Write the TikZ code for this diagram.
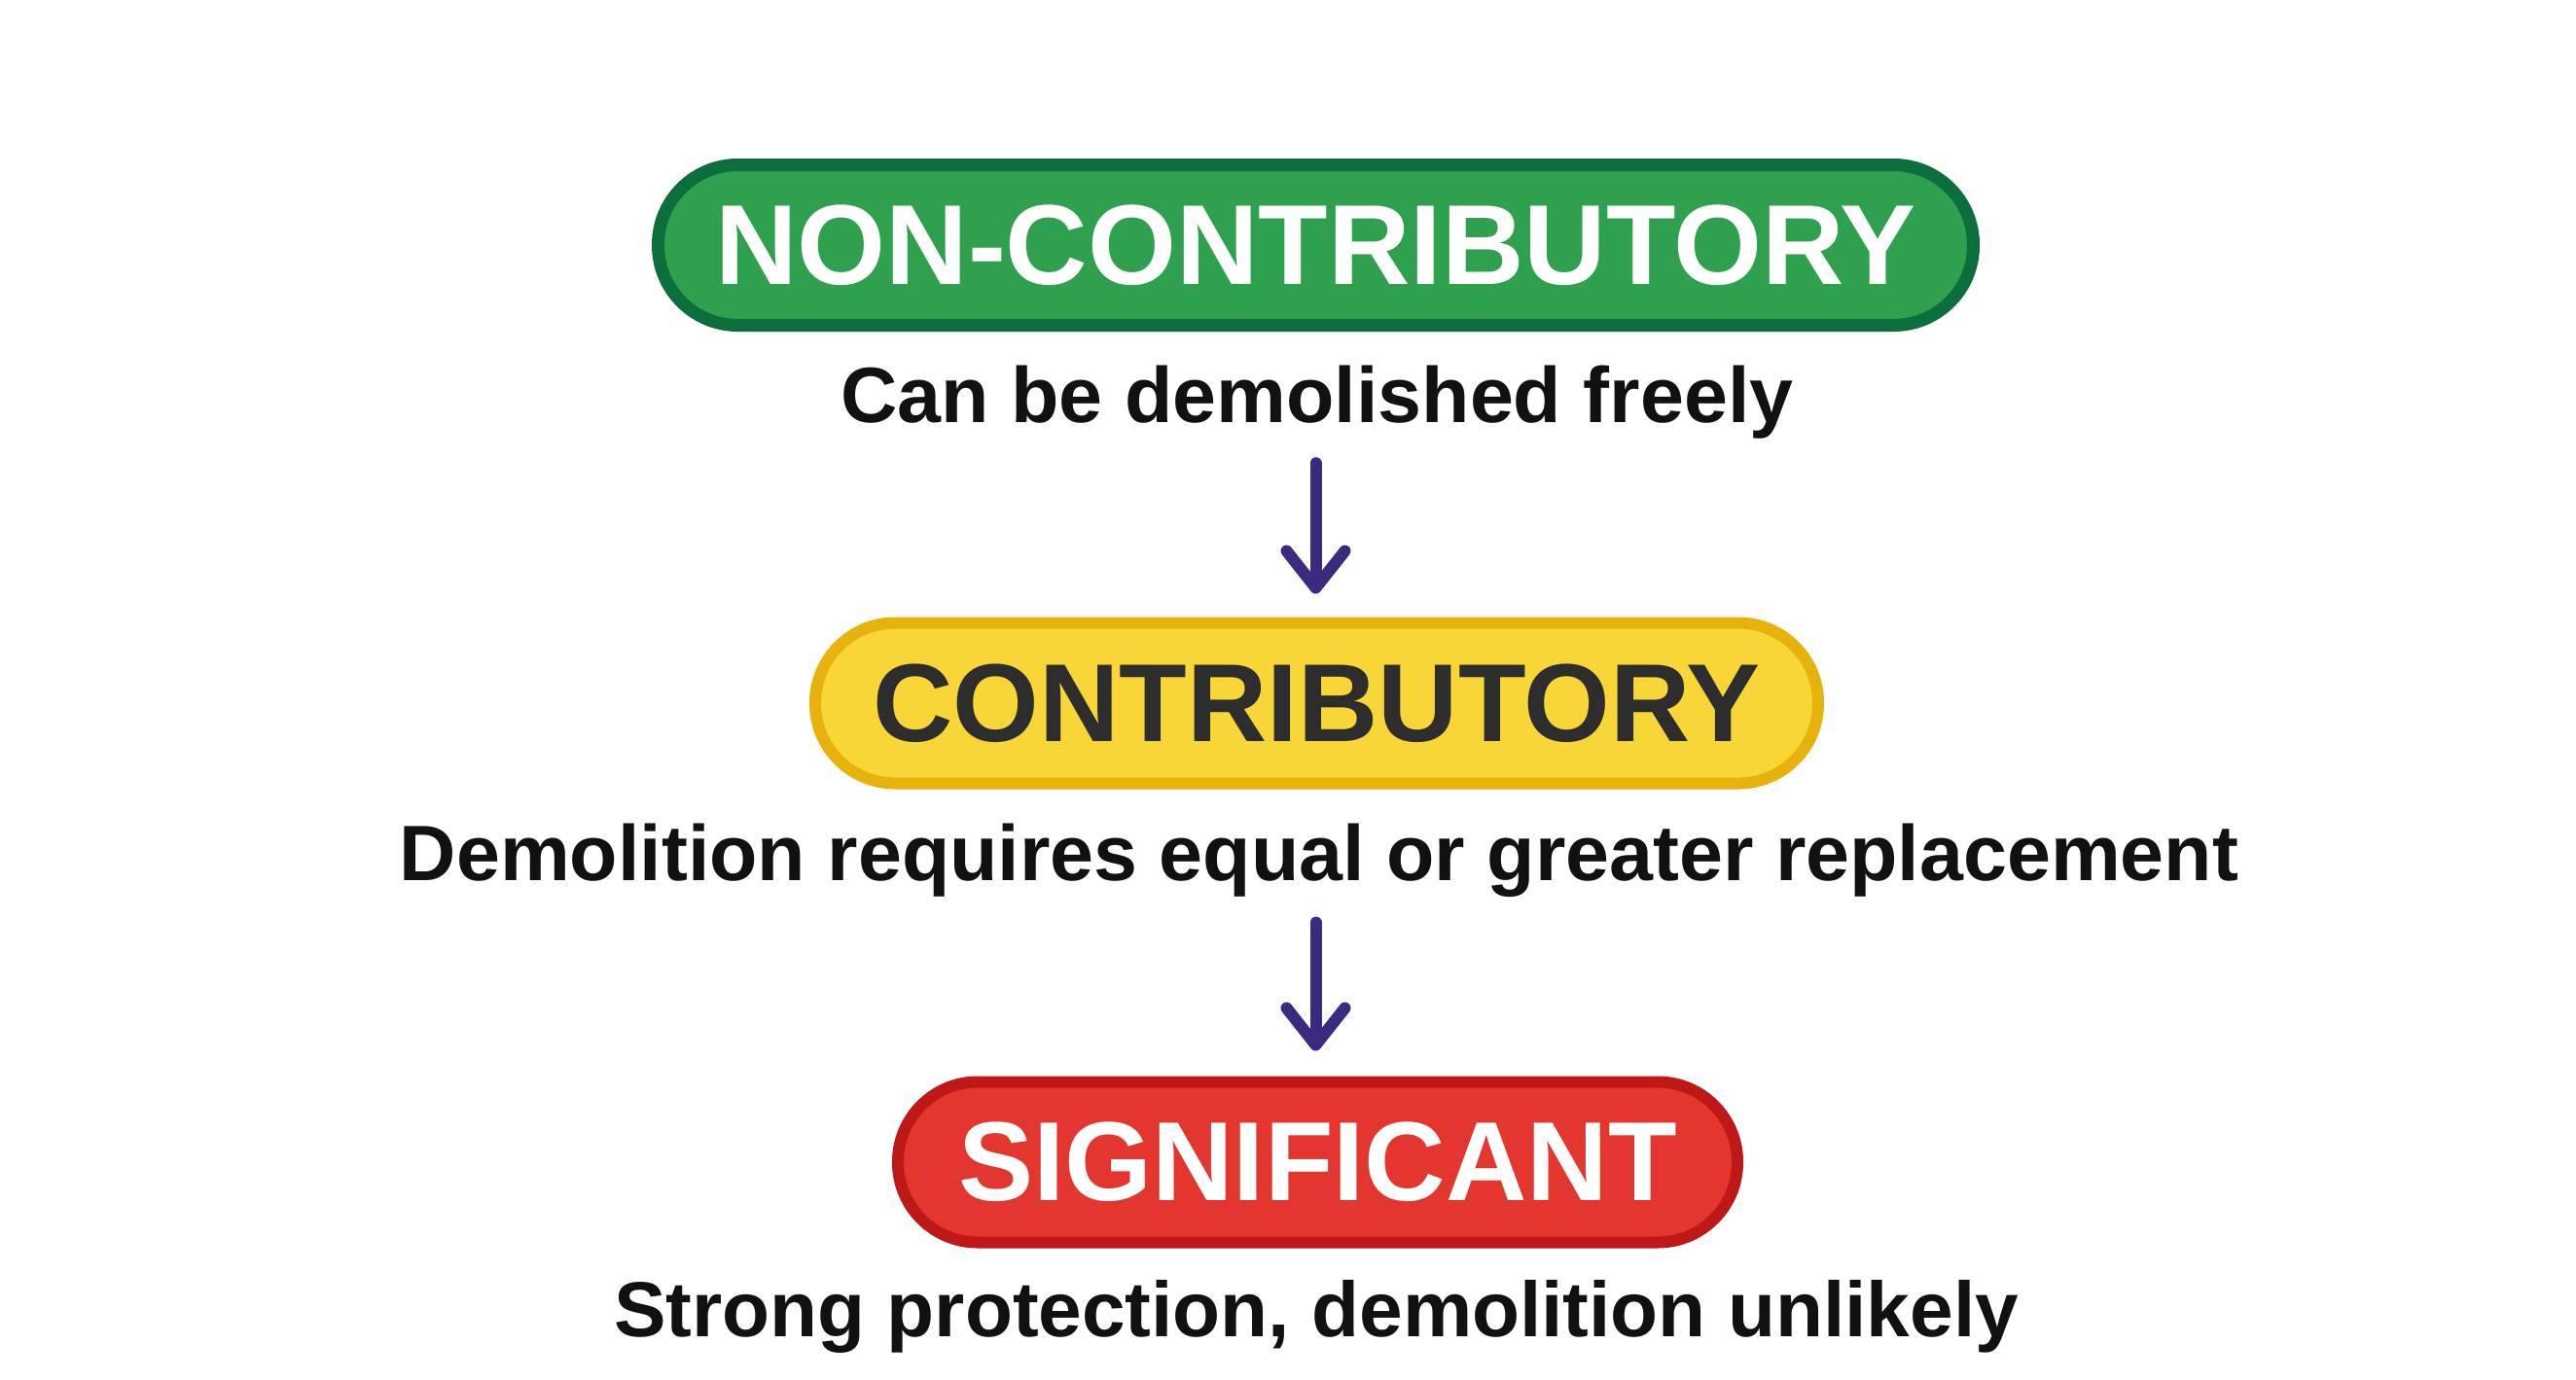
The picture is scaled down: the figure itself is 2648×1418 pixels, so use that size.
\documentclass[tikz,border=0pt]{standalone}
\usepackage{fontspec}
\setmainfont{Liberation Sans}
\usetikzlibrary{arrows.meta}
\definecolor{gfill}{HTML}{2EA04E}
\definecolor{gline}{HTML}{0B6E3C}
\definecolor{yfill}{HTML}{F8D637}
\definecolor{yline}{HTML}{E8B20C}
\definecolor{rfill}{HTML}{E2362E}
\definecolor{rline}{HTML}{BE1818}
\definecolor{ytext}{HTML}{2D2D2D}
\definecolor{captext}{HTML}{111111}
\definecolor{arrowcol}{HTML}{3B2A80}
\tikzset{
  pill/.style={draw, rectangle, inner sep=0pt, minimum height=82.5pt,
    rounded corners=41pt, font=\fontsize{58.5pt}{60pt}\selectfont\bfseries},
  caption/.style={anchor=base, inner sep=0pt, text=captext,
    font=\fontsize{40.4pt}{44pt}\selectfont\bfseries},
  flowarrow/.style={draw=arrowcol, line width=6pt, line cap=round,
    -{Straight Barb[length=19pt, width=30pt, round]}}
}
\begin{document}
\begin{tikzpicture}[x=0.5pt, y=-0.5pt]
  \fill[white] (0,0) rectangle (2648,1418);
  \useasboundingbox (0,0) rectangle (2648,1418);

  \node[pill, fill=gfill, draw=gline, line width=6.5pt, minimum width=676pt, text=white]
    (p1) at (1352.5,252) {NON-CONTRIBUTORY};
  \node[caption] (c1) at (1354,434) {Can be demolished freely};

  \node[pill, fill=yfill, draw=yline, line width=6pt, minimum width=515.5pt, text=ytext,
    font=\fontsize{57pt}{60pt}\selectfont\bfseries]
    (p2) at (1353.5,723) {CONTRIBUTORY};
  \node[caption] (c2) at (1356,905) {Demolition requires equal or greater replacement};

  \node[pill, fill=rfill, draw=rline, line width=6pt, minimum width=431.5pt, text=white,
    font=\fontsize{57.8pt}{60pt}\selectfont\bfseries]
    (p3) at (1354.5,1195) {SIGNIFICANT};
  \node[caption, font=\fontsize{40.1pt}{44pt}\selectfont\bfseries] (c3) at (1353,1374)
    {Strong protection, demolition unlikely};

  \draw[flowarrow, shorten <=12.5pt, shorten >=12pt] (c1.south -| p1.center) -- (p2.north -| p1.center);
  \draw[flowarrow, shorten <=13pt, shorten >=13pt] (c2.south -| p1.center) -- (p3.north -| p1.center);
\end{tikzpicture}
\end{document}
